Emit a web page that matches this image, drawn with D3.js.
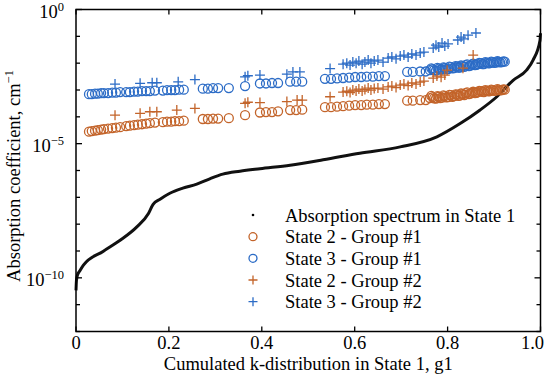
<!DOCTYPE html>
<html><head><meta charset="utf-8">
<script src="https://cdn.jsdelivr.net/npm/d3@7"></script>
<style>body{margin:0;background:#fff} text{font-family:"Liberation Serif","Times New Roman",serif;fill:#000}</style>
</head><body><svg id="c" width="550" height="383"></svg>
<script>
// ---- data ----
const xTicks = [0, 0.2, 0.4, 0.6, 0.8, 1.0];
const xTickLabels = ["0", "0.2", "0.4", "0.6", "0.8", "1.0"];
const yLabelExps = [0, -5, -10];
const legendLabels = ["Absorption spectrum in State 1", "State 2 - Group #1", "State 3 - Group #1", "State 2 - Group #2", "State 3 - Group #2"];

const spectrumG = [0, 0.001, 0.003, 0.009, 0.016, 0.059, 0.095, 0.131, 0.156, 0.166, 0.181, 0.202, 0.230, 0.260, 0.288, 0.316, 0.353, 0.396, 0.461, 0.532, 0.611, 0.698, 0.777, 0.827, 0.870, 0.906, 0.941, 0.970, 0.984, 0.999, 1.0];
const spectrumK = [3.4e-11, 8.1e-11, 1.23e-10, 1.9e-10, 2.95e-10, 9.8e-10, 2.5e-9, 7.9e-9, 2.5e-8, 5.5e-8, 8.5e-8, 1.42e-7, 2.2e-7, 3.1e-7, 4.9e-7, 7.3e-7, 9.4e-7, 1.17e-6, 1.58e-6, 2.5e-6, 4.4e-6, 7.6e-6, 1.8e-5, 5.6e-5, 1.8e-4, 5.6e-4, 2.3e-3, 5.5e-3, 1.3e-2, 7.2e-2, 0.13];

const state2Group1 = [
[0.028,2.8e-5],[0.034,2.95e-5],[0.041,3.05e-5],[0.047,3.2e-5],[0.054,3.35e-5],[0.060,3.5e-5],[0.069,3.65e-5],[0.078,3.8e-5],[0.086,3.95e-5],[0.095,4.1e-5],
[0.108,4.5e-5],[0.116,4.7e-5],[0.125,4.9e-5],[0.133,5.1e-5],[0.142,5.3e-5],[0.151,5.6e-5],[0.159,5.8e-5],[0.170,6.1e-5],
[0.187,6.3e-5],[0.196,6.6e-5],[0.205,6.6e-5],[0.213,6.9e-5],[0.222,6.9e-5],[0.232,7.2e-5],
[0.273,8.3e-5],[0.284,8.3e-5],[0.295,8.6e-5],[0.306,8.6e-5],[0.329,8.9e-5],[0.364,1.15e-4],
[0.396,1.45e-4],[0.409,1.5e-4],[0.422,1.5e-4],[0.435,1.6e-4],[0.461,1.78e-4],[0.474,1.78e-4],[0.487,1.85e-4],
[0.536,2.3e-4],[0.549,2.3e-4],[0.562,2.4e-4],[0.575,2.5e-4],[0.588,2.6e-4],[0.601,2.75e-4],[0.614,2.75e-4],[0.626,2.85e-4],[0.639,2.85e-4],[0.652,3.0e-4],[0.665,3.0e-4],
[0.713,4.0e-4],[0.725,4.0e-4],[0.741,4.2e-4],[0.753,4.2e-4],
[0.762,5.0e-4],[0.765,6.0e-4],[0.768,5.4e-4],[0.771,4.9e-4],[0.775,4.8e-4],[0.778,5.9e-4],[0.781,5.6e-4],[0.784,5.0e-4],[0.788,5.2e-4],[0.791,6.3e-4],
[0.794,5.9e-4],[0.797,5.3e-4],[0.801,5.4e-4],[0.804,6.6e-4],[0.807,6.4e-4],[0.810,5.6e-4],[0.814,5.9e-4],[0.817,6.9e-4],[0.820,6.7e-4],[0.823,6.0e-4],
[0.826,6.2e-4],[0.829,7.4e-4],[0.833,7.0e-4],[0.836,6.5e-4],[0.839,7.6e-4],[0.842,8.1e-4],[0.846,7.0e-4],[0.849,7.3e-4],[0.852,7.9e-4],[0.855,8.6e-4],
[0.859,7.6e-4],[0.862,7.9e-4],[0.865,8.4e-4],[0.868,9.3e-4],[0.872,9.1e-4],[0.875,8.6e-4],[0.878,8.4e-4],[0.881,9.8e-4],[0.885,9.5e-4],[0.888,8.9e-4],
[0.891,9.1e-4],[0.894,1.04e-3],[0.897,9.9e-4],[0.900,9.3e-4],[0.904,9.5e-4],[0.907,1.07e-3],[0.910,1.03e-3],[0.913,9.7e-4],[0.917,9.9e-4],[0.920,1.05e-3],[0.923,1.03e-3]
];
const state3Group1 = [
[0.028,7.0e-4],[0.034,7.0e-4],[0.041,7.3e-4],[0.047,7.3e-4],[0.054,7.7e-4],[0.060,7.7e-4],[0.069,7.7e-4],[0.078,8.0e-4],[0.086,8.0e-4],[0.095,8.35e-4],
[0.108,8.35e-4],[0.116,8.35e-4],[0.125,8.7e-4],[0.133,8.7e-4],[0.142,9.1e-4],[0.151,9.1e-4],[0.159,9.1e-4],[0.170,9.5e-4],
[0.187,9.5e-4],[0.196,9.9e-4],[0.205,9.9e-4],[0.213,9.9e-4],[0.222,1.03e-3],[0.232,1.03e-3],
[0.273,1.12e-3],[0.284,1.12e-3],[0.295,1.18e-3],[0.306,1.18e-3],[0.329,1.18e-3],[0.364,1.4e-3],
[0.396,1.75e-3],[0.409,1.75e-3],[0.422,1.82e-3],[0.435,1.82e-3],[0.461,2.05e-3],[0.474,2.05e-3],[0.487,2.05e-3],
[0.536,2.6e-3],[0.549,2.6e-3],[0.562,2.7e-3],[0.575,2.8e-3],[0.588,2.9e-3],[0.601,3.05e-3],[0.614,3.05e-3],[0.626,3.15e-3],[0.639,3.15e-3],[0.652,3.3e-3],[0.665,3.3e-3],
[0.713,4.7e-3],[0.725,4.7e-3],[0.741,4.9e-3],[0.753,4.9e-3],
[0.762,5.5e-3],[0.765,6.4e-3],[0.768,6.0e-3],[0.771,5.5e-3],[0.775,5.3e-3],[0.778,6.7e-3],[0.781,6.3e-3],[0.784,5.7e-3],[0.788,5.8e-3],[0.791,7.0e-3],
[0.794,6.6e-3],[0.797,6.0e-3],[0.801,6.0e-3],[0.804,7.4e-3],[0.807,7.1e-3],[0.810,6.4e-3],[0.814,6.6e-3],[0.817,7.8e-3],[0.820,7.5e-3],[0.823,6.8e-3],
[0.826,6.9e-3],[0.829,8.2e-3],[0.833,7.8e-3],[0.836,7.3e-3],[0.839,8.5e-3],[0.842,9.0e-3],[0.846,7.8e-3],[0.849,8.1e-3],[0.852,8.9e-3],[0.855,9.6e-3],
[0.859,8.5e-3],[0.862,8.6e-3],[0.865,9.25e-3],[0.868,1.02e-2],[0.872,1.0e-2],[0.875,9.3e-3],[0.878,9.25e-3],[0.881,1.08e-2],[0.885,1.05e-2],[0.888,9.8e-3],
[0.891,1.0e-2],[0.894,1.15e-2],[0.897,1.1e-2],[0.900,1.03e-2],[0.904,1.05e-2],[0.907,1.18e-2],[0.910,1.14e-2],[0.913,1.07e-2],[0.917,1.1e-2],[0.920,1.16e-2],[0.923,1.14e-2]
];
const state2Group2 = [
[0.084,1.15e-4],[0.138,1.35e-4],[0.159,1.55e-4],[0.174,1.55e-4],[0.217,1.78e-4],[0.256,2.05e-4],[0.364,3.2e-4],[0.370,3.5e-4],[0.396,3.4e-4],[0.454,3.7e-4],[0.476,4.2e-4],[0.487,4.2e-4],[0.547,5.6e-4],
[0.575,8.4e-4],[0.583,9.0e-4],[0.590,8.0e-4],[0.596,9.9e-4],[0.603,9.1e-4],[0.609,1.08e-3],[0.616,9.1e-4],[0.622,1.04e-3],[0.629,1.18e-3],[0.635,9.9e-4],[0.642,1.13e-3],[0.650,1.18e-3],[0.661,1.08e-3],
[0.672,1.3e-3],[0.680,1.4e-3],[0.689,1.24e-3],[0.698,1.53e-3],[0.706,1.66e-3],[0.715,1.46e-3],[0.723,1.82e-3],[0.732,1.66e-3],[0.741,1.97e-3],[0.749,2.15e-3],
[0.769,2.78e-3],[0.777,3.3e-3],[0.786,3.0e-3],[0.794,3.6e-3],[0.799,5.5e-3],[0.833,6.5e-3],[0.855,2.0e-2]
];
const state3Group2 = [
[0.084,1.66e-3],[0.138,1.78e-3],[0.164,1.86e-3],[0.174,1.86e-3],[0.220,2.02e-3],[0.256,2.45e-3],[0.364,3.1e-3],[0.370,3.4e-3],[0.396,3.6e-3],[0.454,3.9e-3],[0.467,4.7e-3],[0.482,4.7e-3],[0.547,6.3e-3],
[0.575,9.2e-3],[0.583,1.0e-2],[0.590,8.5e-3],[0.596,1.1e-2],[0.603,1.0e-2],[0.609,1.2e-2],[0.616,9.2e-3],[0.622,1.1e-2],[0.629,1.31e-2],[0.635,1.0e-2],[0.642,1.2e-2],[0.650,1.3e-2],[0.661,1.1e-2],
[0.672,1.55e-2],[0.680,1.7e-2],[0.689,1.45e-2],[0.698,1.84e-2],[0.706,2.0e-2],[0.715,1.7e-2],[0.723,2.2e-2],[0.732,2.0e-2],[0.741,2.4e-2],[0.749,2.6e-2],
[0.769,3.66e-2],[0.775,4.7e-2],[0.781,4.0e-2],[0.788,5.6e-2],[0.794,4.35e-2],[0.801,5.2e-2],
[0.822,7.3e-2],[0.829,9.4e-2],[0.835,8.0e-2],[0.844,1.1e-1],[0.861,1.33e-1]
];

// ---- layout ----
const svg = d3.select("#c");
const W = 550;
const L = 76, R = 540.5, T = 9.5, B = 331.5;
const x = d3.scaleLinear().domain([0, 1]).range([L, R]);
const y = d3.scaleLog().domain([1e-12, 1]).range([B, T]);
const c2 = "#c3642a", c3 = "#2c6cc6";
const font = 18.5;

// spectrum line
const line = d3.line().x(d => x(d[0])).y(d => y(d[1])).curve(d3.curveMonotoneX);
svg.append("path").datum(spectrumG.map((g, i) => [g, spectrumK[i]]))
  .attr("d", line).attr("fill", "none").attr("stroke", "#111").attr("stroke-width", 3);

function circles(data, col) {
  svg.append("g").selectAll("circle").data(data).join("circle")
    .attr("cx", d => x(d[0])).attr("cy", d => y(d[1])).attr("r", 4.5)
    .attr("fill", "none").attr("stroke", col).attr("stroke-width", 1.3);
}
function pluses(data, col) {
  const s = 5;
  svg.append("g").selectAll("path").data(data).join("path")
    .attr("d", d => { const cx = x(d[0]), cy = y(d[1]); return `M${cx - s},${cy}H${cx + s}M${cx},${cy - s}V${cy + s}`; })
    .attr("fill", "none").attr("stroke", col).attr("stroke-width", 1.3);
}
circles(state2Group1, c2);
circles(state3Group1, c3);
pluses(state2Group2, c2);
pluses(state3Group2, c3);

// frame
svg.append("rect").attr("x", L).attr("y", T).attr("width", R - L).attr("height", B - T)
  .attr("fill", "none").attr("stroke", "#000").attr("stroke-width", 1.5);

// x ticks (bottom + top, inward)
const ax = svg.append("g");
xTicks.forEach((t, i) => {
  const px = x(t);
  ax.append("line").attr("x1", px).attr("x2", px).attr("y1", B).attr("y2", B - 5).attr("stroke", "#000").attr("stroke-width", 1.3);
  ax.append("line").attr("x1", px).attr("x2", px).attr("y1", T).attr("y2", T + 5).attr("stroke", "#000").attr("stroke-width", 1.3);
  const lab = ax.append("text").attr("x", px).attr("y", 348.5).attr("text-anchor", "middle").attr("font-size", font).text(xTickLabels[i]);
  const w = lab.node().getComputedTextLength();
  if (px + w / 2 > W - 6) lab.attr("x", W - 6).attr("text-anchor", "end");
});
// y ticks every decade
const yt = y.ticks().filter(v => Math.abs(Math.log10(v) - Math.round(Math.log10(v))) < 1e-9);
yt.forEach(v => {
  const py = y(v);
  const major = yLabelExps.includes(Math.round(Math.log10(v)));
  const len = major ? 6 : 4;
  ax.append("line").attr("x1", L).attr("x2", L + len).attr("y1", py).attr("y2", py).attr("stroke", "#000").attr("stroke-width", 1.3);
  ax.append("line").attr("x1", R).attr("x2", R - len).attr("y1", py).attr("y2", py).attr("stroke", "#000").attr("stroke-width", 1.3);
});
yLabelExps.forEach(e => {
  const t = ax.append("text").attr("x", 64).attr("y", y(Math.pow(10, e)) + 8).attr("text-anchor", "end").attr("font-size", font);
  t.append("tspan").text("10");
  t.append("tspan").attr("font-size", 12.5).attr("dy", -7).text(e === 0 ? "0" : "\u2212" + (-e));
});

// axis titles
svg.append("text").attr("x", (L + R) / 2).attr("y", 369.5).attr("text-anchor", "middle").attr("font-size", font)
  .text("Cumulated k-distribution in State 1, g1");
const yl = svg.append("text").attr("transform", "translate(20,176) rotate(-90)").attr("text-anchor", "middle").attr("font-size", font);
yl.append("tspan").text("Absorption coefficient, cm");
yl.append("tspan").attr("font-size", 12.5).attr("dy", -7).text("\u22121");

// legend
const lg = svg.append("g");
const rowY = [215, 236.7, 258.3, 280, 301.7];
legendLabels.forEach((lab, i) => {
  lg.append("text").attr("x", 285).attr("y", rowY[i] + 6.5).attr("font-size", font).text(lab);
});
lg.append("circle").attr("cx", 253).attr("cy", rowY[0]).attr("r", 1.3).attr("fill", "#000");
lg.append("circle").attr("cx", 253).attr("cy", rowY[1]).attr("r", 4).attr("fill", "none").attr("stroke", c2).attr("stroke-width", 1.3);
lg.append("circle").attr("cx", 253).attr("cy", rowY[2]).attr("r", 4).attr("fill", "none").attr("stroke", c3).attr("stroke-width", 1.3);
[[3, c2], [4, c3]].forEach(([i, col]) => {
  const cy = rowY[i], s = 4.5;
  lg.append("path").attr("d", `M${253 - s},${cy}H${253 + s}M253,${cy - s}V${cy + s}`).attr("stroke", col).attr("stroke-width", 1.3);
});
</script></body></html>
